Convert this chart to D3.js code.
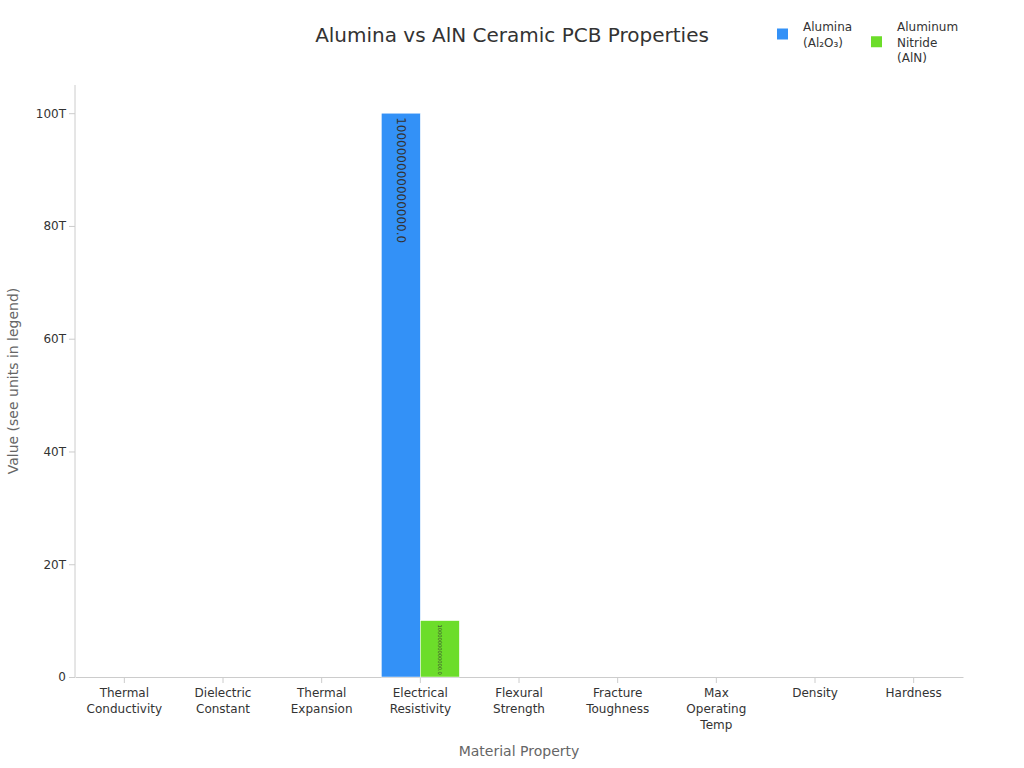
<!DOCTYPE html>
<html lang="en">
<head>
    <meta charset="UTF-8">
    <title>Alumina vs AlN Ceramic PCB Properties</title>
    <script src="https://cdnjs.cloudflare.com/ajax/libs/d3/7.8.5/d3.min.js"></script>
    <style>
        body { margin: 0; background: #fff; font-family: 'DejaVu Sans', sans-serif; }
        #chart { width: 1024px; height: 768px; }
        svg text { font-family: 'DejaVu Sans', sans-serif; }
        .tick text { font-size: 12px; fill: #333; }
        .domain, .tick line { stroke: #ccc; }
    </style>
</head>
<body>
    <div id="chart"></div>
    <script>
        const categories = [
            ['Thermal', 'Conductivity'],
            ['Dielectric', 'Constant'],
            ['Thermal', 'Expansion'],
            ['Electrical', 'Resistivity'],
            ['Flexural', 'Strength'],
            ['Fracture', 'Toughness'],
            ['Max', 'Operating', 'Temp'],
            ['Density'],
            ['Hardness']
        ];
        const seriesNames = [['Alumina', '(Al\u2082O\u2083)'], ['Aluminum', 'Nitride', '(AlN)']];
        const seriesColors = ['#3391F7', '#6CDD2A'];
        const alumina = [24, 9.8, 7.2, 1e14, 350, 3.5, 1600, 3.9, 15];
        const aln = [170, 8.8, 4.5, 1e13, 320, 3.0, 1400, 3.3, 11];
        const yTicks = [0, 20e12, 40e12, 60e12, 80e12, 100e12];

        const W = 1024, H = 768;
        const margin = {top: 85, right: 61, bottom: 91, left: 75};
        const width = W - margin.left - margin.right;
        const height = H - margin.top - margin.bottom;

        const svg = d3.select('#chart').append('svg')
            .attr('width', W).attr('height', H);

        svg.append('text')
            .attr('x', 512).attr('y', 42)
            .attr('text-anchor', 'middle')
            .style('font-size', '20px').style('fill', '#333')
            .text('Alumina vs AlN Ceramic PCB Properties');

        const g = svg.append('g').attr('transform', `translate(${margin.left},${margin.top})`);

        const idx = d3.range(categories.length);
        const x0 = d3.scaleBand().domain(idx).range([0, width]).padding(0);
        const x1 = d3.scaleBand().domain([0, 1]).range([0, x0.bandwidth()]).paddingOuter(0.265).paddingInner(0);
        const y = d3.scaleLinear().domain([0, d3.max(alumina.concat(aln)) * 1.05]).range([height, 0]);

        // axes
        const yAxis = g.append('g')
            .call(d3.axisLeft(y).tickValues(yTicks).tickFormat(d3.format('~s')).tickSizeOuter(0));
        yAxis.select('.domain').attr('d', `M0,0V${height}`);

        const xAxis = g.append('g')
            .attr('transform', `translate(0,${height})`)
            .call(d3.axisBottom(x0).tickFormat('').tickSizeOuter(0));
        xAxis.selectAll('.tick').each(function(d) {
            const t = d3.select(this).append('text')
                .attr('y', 20).attr('text-anchor', 'middle')
                .style('font-size', '12px').style('fill', '#333');
            categories[d].forEach((line, i) => {
                t.append('tspan').attr('x', 0).attr('dy', i === 0 ? 0 : '1.33em').text(line);
            });
        });

        // bars
        const data = idx.map(i => [alumina[i], aln[i]]);
        const groups = g.selectAll('.grp').data(data).enter().append('g')
            .attr('transform', (d, i) => `translate(${x0(i)},0)`);

        groups.selectAll('rect').data(d => d).enter().append('rect')
            .attr('x', (d, j) => x1(j))
            .attr('y', d => y(d))
            .attr('width', x1.bandwidth())
            .attr('height', d => height - y(d))
            .attr('fill', (d, j) => seriesColors[j])
            .attr('stroke', '#fff').attr('stroke-width', 0.5);

        // value labels, only where the bar is tall enough
        groups.selectAll('.lbl').data(d => d).enter().each(function(d, j) {
            const h = height - y(d);
            if (h < 20) return;
            const cx = x1(j) + x1.bandwidth() / 2;
            const t = d3.select(this).append('text')
                .attr('transform', `translate(${cx},${y(d) + 4}) rotate(90)`)
                .attr('dominant-baseline', 'central')
                .style('font-size', '12px').style('fill', '#333')
                .text(d3.format('.1f')(d));
            const len = t.node().getComputedTextLength();
            if (len > h - 6) t.style('font-size', (12 * (h - 6) / len) + 'px');
        });

        // axis titles
        svg.append('text')
            .attr('transform', `translate(18,${margin.top + height / 2}) rotate(-90)`)
            .attr('text-anchor', 'middle')
            .style('font-size', '14px').style('fill', '#666')
            .text('Value (see units in legend)');
        svg.append('text')
            .attr('x', margin.left + width / 2).attr('y', 756)
            .attr('text-anchor', 'middle')
            .style('font-size', '14px').style('fill', '#666')
            .text('Material Property');

        // legend
        const legX = [777, 871];
        seriesNames.forEach((lines, j) => {
            const lg = svg.append('g');
            const top = 31;
            const blockH = lines.length * 15.5;
            lg.append('rect')
                .attr('x', legX[j]).attr('y', top - 12 + blockH / 2 - 6)
                .attr('width', 11).attr('height', 11)
                .attr('fill', seriesColors[j]);
            const t = lg.append('text').attr('x', legX[j] + 26).attr('y', top)
                .style('font-size', '12px').style('fill', '#333');
            lines.forEach((line, i) => {
                t.append('tspan').attr('x', legX[j] + 26).attr('dy', i === 0 ? 0 : 15.5).text(line);
            });
        });
    </script>
</body>
</html>
